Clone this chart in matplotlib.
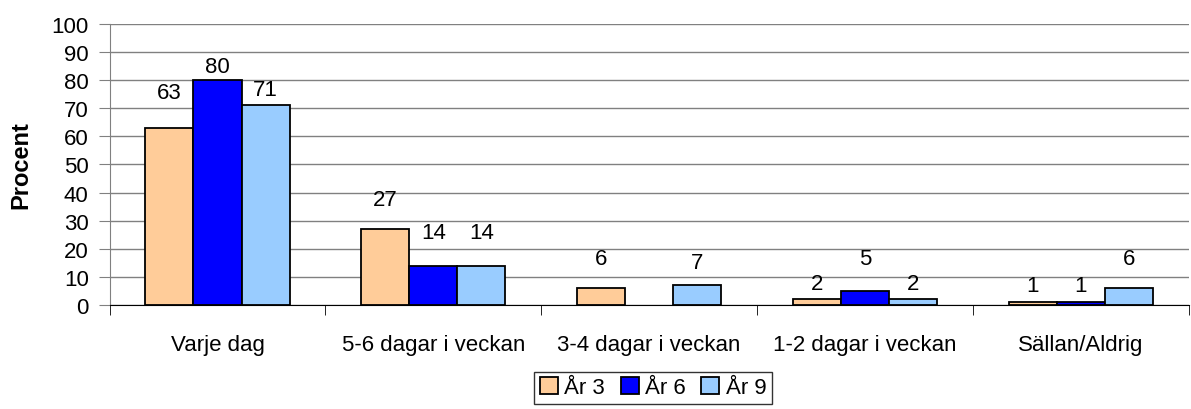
import numpy as np
import matplotlib
matplotlib.use("Agg")
import matplotlib.pyplot as plt

plt.rcParams['font.family'] = ['Liberation Sans', 'DejaVu Sans']

categories = ["Varje dag", "5-6 dagar i veckan", "3-4 dagar i veckan",
              "1-2 dagar i veckan", "Sällan/Aldrig"]
series_names = ["År 3", "År 6", "År 9"]
ar3 = [63, 27, 6, 2, 1]
ar6 = [80, 14, None, 5, 1]
ar9 = [71, 14, 7, 2, 6]
colors = ["#FFCC99", "#0000FF", "#99CCFF"]
# gap (points) between bar top and its value label, as placed in the original
label_gap = [[18, 14, 14, 4, 4],
             [2, 16, 0, 16, 4],
             [4, 16, 9, 4, 14]]

fig = plt.figure(figsize=(11.91, 4.10), dpi=100)
ax = fig.add_axes([0.092, 0.254, 0.906, 0.685])

x = np.arange(len(categories))
w = 0.223
for i, (vals, name, c) in enumerate(zip([ar3, ar6, ar9], series_names, colors)):
    xs = [xx + (i - 1) * w for xx, v in zip(x, vals) if v is not None]
    vs = [v for v in vals if v is not None]
    gaps = [g for g, v in zip(label_gap[i], vals) if v is not None]
    ax.bar(xs, vs, width=w, color=c, edgecolor="black", linewidth=1.3,
           label=name, zorder=3)
    for xx, v, g in zip(xs, vs, gaps):
        ax.annotate(str(v), (xx, v), xytext=(0, g), textcoords="offset points",
                    ha="center", va="bottom", fontsize=16)

ax.set_xlim(-0.5, len(categories) - 0.5)
ax.set_ylim(0, 100)
ax.set_yticks(range(0, 101, 10))
ax.yaxis.grid(True, color="#808080", linewidth=1, zorder=0)
ax.set_xticks(x)
ax.set_xticklabels(categories)
ax.tick_params(axis="x", length=0, pad=21, labelsize=16)
ax.tick_params(axis="y", length=8, labelsize=16, pad=7, color="#808080")
# category boundary ticks
ax.set_xticks(np.arange(-0.5, len(categories) - 0.4, 1.0), minor=True)
ax.tick_params(axis="x", which="minor", length=7, direction="out", color="black")
for s in ["top", "right"]:
    ax.spines[s].set_visible(False)
ax.spines["left"].set_color("#808080")
ax.spines["bottom"].set_color("black")
ax.set_ylabel("Procent", fontsize=17, fontweight="bold", labelpad=14)

leg = fig.legend(loc="lower center", bbox_to_anchor=(0.5485, -0.015), ncol=3,
                 fontsize=16, frameon=True, fancybox=False, edgecolor="black",
                 handlelength=0.8, handleheight=0.8, handletextpad=0.3,
                 columnspacing=0.7, borderpad=0.25)
leg.get_frame().set_linewidth(1)

fig.savefig("out.png", dpi=100)
